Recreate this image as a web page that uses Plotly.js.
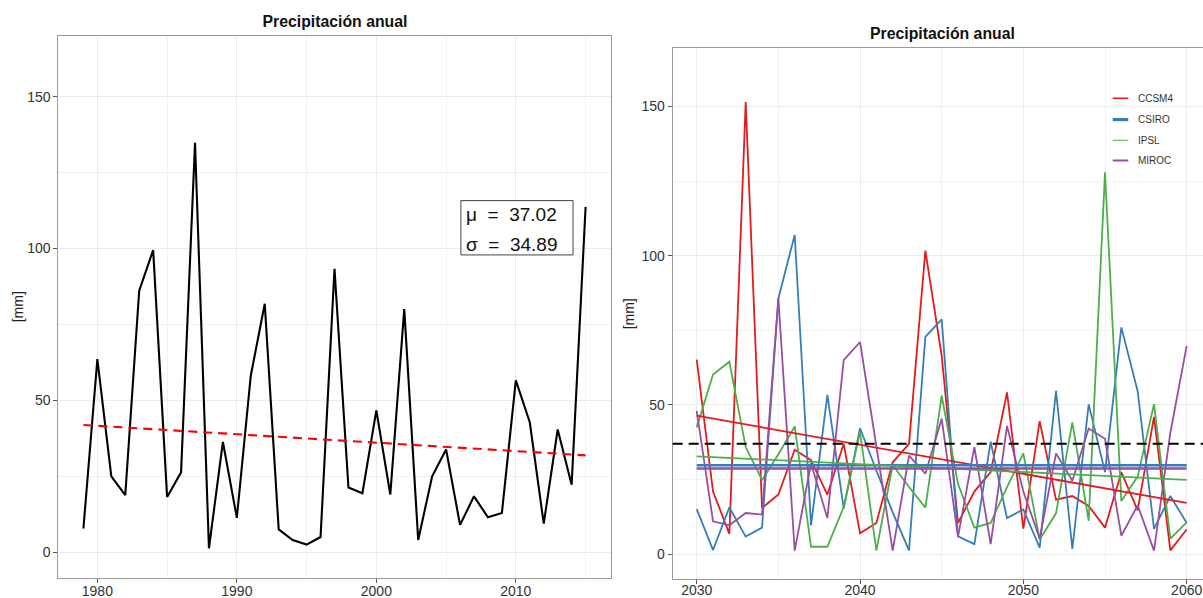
<!DOCTYPE html>
<html>
<head>
<meta charset="utf-8">
<script src="https://cdn.plot.ly/plotly-3.0.1.min.js"></script>
<style>html,body{margin:0;padding:0;background:#fff;}</style>
</head>
<body>
<div id="chart" style="width:1203px;height:598px;"></div>
<script>
// ---------------- data ----------------
const histYears = [1979,1980,1981,1982,1983,1984,1985,1986,1987,1988,1989,1990,1991,1992,1993,1994,1995,1996,1997,1998,1999,2000,2001,2002,2003,2004,2005,2006,2007,2008,2009,2010,2011,2012,2013,2014,2015];
const histPrecip = [7.8,63.6,25.0,18.8,86.1,99.5,18.2,26.3,134.8,1.3,36.3,11.3,58.2,81.8,7.5,4.0,2.5,5.0,93.3,21.3,19.4,46.7,19.0,80.1,4.0,25.0,33.8,9.0,18.4,11.5,12.9,56.6,42.8,9.4,40.4,22.2,113.7];
const histTrendYears = [1979, 2015];
const histTrendValues = [41.9, 31.9];
const histMean = 37.02;
const histSd = 34.89;

const futYears = [2030,2031,2032,2033,2034,2035,2036,2037,2038,2039,2040,2041,2042,2043,2044,2045,2046,2047,2048,2049,2050,2051,2052,2053,2054,2055,2056,2057,2058,2059,2060];
const ccsm4 = [65.2,21.0,6.8,151.5,15.5,20.0,35.0,31.5,20.0,37.0,7.0,10.5,30.8,37.0,101.7,66.5,10.5,21.0,27.5,54.2,8.6,44.6,18.3,19.5,16.2,8.9,27.5,14.7,46.0,1.3,8.3];
const csiro = [15.1,1.4,15.7,5.9,8.9,85.7,107.0,9.7,53.4,15.4,42.2,28.0,14.0,1.3,72.8,78.7,6.0,3.4,37.7,12.1,15.0,2.2,54.7,1.8,50.2,27.5,76.0,54.6,8.5,19.5,10.5];
const ipsl = [42.5,60.2,64.5,35.9,24.8,33.5,42.8,2.5,2.5,15.8,41.0,1.2,29.9,22.5,15.6,53.1,23.6,8.9,10.5,22.5,33.8,4.9,13.7,44.2,11.2,128.0,17.8,26.0,50.3,5.2,10.7];
const miroc = [48.0,11.0,9.7,13.8,13.3,85.7,1.2,30.5,12.1,65.0,71.1,36.8,1.2,33.0,27.0,45.4,5.8,35.9,3.4,43.0,21.0,5.3,33.8,24.6,42.1,38.7,6.2,16.4,1.2,40.7,69.8];
const modelNames = ['CCSM4','CSIRO','IPSL','MIROC'];
const modelSeries = [ccsm4, csiro, ipsl, miroc];
const modelTrendYears = [2030, 2060];
const modelTrendStart = [46.4, 29.8, 32.8, 28.7];
const modelTrendEnd = [17.2, 29.8, 24.9, 28.7];

const yTicks = [0, 50, 100, 150];
const xTicksLeft = [1980, 1990, 2000, 2010];
const xTicksRight = [2030, 2040, 2050, 2060];
const titleText = 'Precipitación anual';
const yTitleText = '[mm]';

// ---------------- style ----------------
const W = 1203, H = 598;
const px = v => v / W;
const py = v => 1 - v / H;
const modelColors = ['#E41A1C', '#377EB8', '#4DAF4A', '#984EA3'];
const seriesWidths = [1.8, 1.8, 1.8, 1.8];
const trendWidths = [1.8, 2.6, 1.8, 2.6];
const legendWidths = [1.6, 3.2, 1.0, 2.0];
const FONT = 'Liberation Sans, Arial, Helvetica, sans-serif';
const tickFont = {family: FONT, size: 14, color: '#333333'};

const traces = [];
traces.push({x: histYears, y: histPrecip, type: 'scatter', mode: 'lines',
  line: {color: '#000000', width: 2.1}, xaxis: 'x', yaxis: 'y', showlegend: false, hoverinfo: 'skip'});
traces.push({x: histTrendYears, y: histTrendValues, type: 'scatter', mode: 'lines',
  line: {color: '#FF0000', width: 2.1, dash: '9px,6px'}, xaxis: 'x', yaxis: 'y', showlegend: false, hoverinfo: 'skip'});

modelSeries.forEach((s, i) => {
  traces.push({x: futYears, y: s, type: 'scatter', mode: 'lines', name: modelNames[i],
    line: {color: modelColors[i], width: seriesWidths[i]}, xaxis: 'x2', yaxis: 'y2', showlegend: false, hoverinfo: 'skip'});
});
modelSeries.forEach((s, i) => {
  traces.push({x: modelTrendYears, y: [modelTrendStart[i], modelTrendEnd[i]], type: 'scatter', mode: 'lines',
    line: {color: modelColors[i], width: trendWidths[i]}, xaxis: 'x2', yaxis: 'y2', showlegend: false, hoverinfo: 'skip'});
});

function axisBase() {
  return {
    showline: true, linecolor: '#9a9a9a', linewidth: 1, mirror: true,
    ticks: 'outside', ticklen: 4, tickcolor: '#555555', tickwidth: 1,
    showgrid: true, gridcolor: '#EBEBEB', gridwidth: 1, zeroline: false,
    tickfont: tickFont, fixedrange: true
  };
}

const xaxis = Object.assign(axisBase(), {domain: [px(58.3), px(610.7)], range: [1977.2, 2016.8],
  tickmode: 'array', tickvals: xTicksLeft, ticktext: xTicksLeft.map(String), anchor: 'y', ticklabelstandoff: -4,
  minor: {dtick: 5, tick0: 1975, showgrid: true, gridcolor: '#F2F2F2', gridwidth: 1, ticks: ''}});
const yaxis = Object.assign(axisBase(), {domain: [py(577.7), py(35.7)], range: [-8.4, 170.1],
  tickmode: 'array', tickvals: yTicks, ticktext: yTicks.map(String), anchor: 'x',
  minor: {dtick: 25, tick0: 0, showgrid: true, gridcolor: '#F2F2F2', gridwidth: 1, ticks: ''},
  title: {text: yTitleText, font: {family: FONT, size: 14, color: '#222'}, standoff: 0}});
const xaxis2 = Object.assign(axisBase(), {domain: [px(672.7), 1], range: [2028.53, 2061.0],
  tickmode: 'array', tickvals: xTicksRight, ticktext: xTicksRight.map(String), anchor: 'y2', ticklabelstandoff: -6,
  minor: {dtick: 5, tick0: 2025, showgrid: true, gridcolor: '#F2F2F2', gridwidth: 1, ticks: ''}});
const yaxis2 = Object.assign(axisBase(), {domain: [py(579.3), py(48.3)], range: [-8.4, 169.5], mirror: false,
  tickmode: 'array', tickvals: yTicks, ticktext: yTicks.map(String), anchor: 'x2',
  minor: {dtick: 25, tick0: 0, showgrid: true, gridcolor: '#F2F2F2', gridwidth: 1, ticks: ''},
  title: {text: yTitleText, font: {family: FONT, size: 14, color: '#222'}, standoff: 3}});

const shapes = [];
// historical mean reference line on the projection panel
shapes.push({type: 'line', xref: 'x2 domain', yref: 'y2', x0: 0, x1: 1, y0: histMean, y1: histMean,
  line: {color: '#000000', width: 2.2, dash: '10px,6px'}, layer: 'above'});
// statistics box
shapes.push({type: 'rect', xref: 'x', yref: 'y', x0: 2006.06, x1: 2014.1, y0: 97.9, y1: 115.8,
  line: {color: '#444444', width: 1}, fillcolor: '#FFFFFF', layer: 'above'});

const annotations = [];
annotations.push({xref: 'x', yref: 'y', x: 2006.3, y: 111.1, xanchor: 'left', yanchor: 'middle', showarrow: false,
  text: 'μ\u00a0\u00a0=\u00a0\u00a0' + histMean.toFixed(2), font: {family: FONT, size: 19, color: '#111'}});
annotations.push({xref: 'x', yref: 'y', x: 2006.3, y: 101.2, xanchor: 'left', yanchor: 'middle', showarrow: false,
  text: 'σ\u00a0\u00a0=\u00a0\u00a0' + histSd.toFixed(2), font: {family: FONT, size: 19, color: '#111'}});
// right-panel title
annotations.push({xref: 'paper', yref: 'paper', x: px(942.5), y: py(33.2), xanchor: 'center', yanchor: 'middle',
  showarrow: false, text: '<b>' + titleText + '</b>', font: {family: FONT, size: 15.8, color: '#111'}});

// legend (drawn manually to match the short key lines)
const legendRowsY = [98.3, 119.6, 140.3, 160.5];
modelNames.forEach((n, i) => {
  shapes.push({type: 'line', xref: 'paper', yref: 'paper', x0: px(1112.7), x1: px(1128.3),
    y0: py(legendRowsY[i]), y1: py(legendRowsY[i]), line: {color: modelColors[i], width: legendWidths[i]}});
  annotations.push({xref: 'paper', yref: 'paper', x: px(1136), y: py(legendRowsY[i]), xanchor: 'left', yanchor: 'middle',
    showarrow: false, text: n, font: {family: FONT, size: 10, color: '#333'}});
});

const layout = {
  width: W, height: H,
  margin: {l: 0, r: 0, t: 0, b: 0, pad: 0},
  paper_bgcolor: '#FFFFFF', plot_bgcolor: '#FFFFFF',
  showlegend: false,
  title: {text: '<b>' + titleText + '</b>', x: px(335), xanchor: 'center', xref: 'paper',
    y: py(21), yanchor: 'middle', yref: 'paper', font: {family: FONT, size: 15.8, color: '#111'}},
  xaxis: xaxis, yaxis: yaxis, xaxis2: xaxis2, yaxis2: yaxis2,
  shapes: shapes, annotations: annotations,
  font: {family: FONT}
};

Plotly.newPlot('chart', traces, layout, {staticPlot: true, displayModeBar: false});
</script>
</body>
</html>
